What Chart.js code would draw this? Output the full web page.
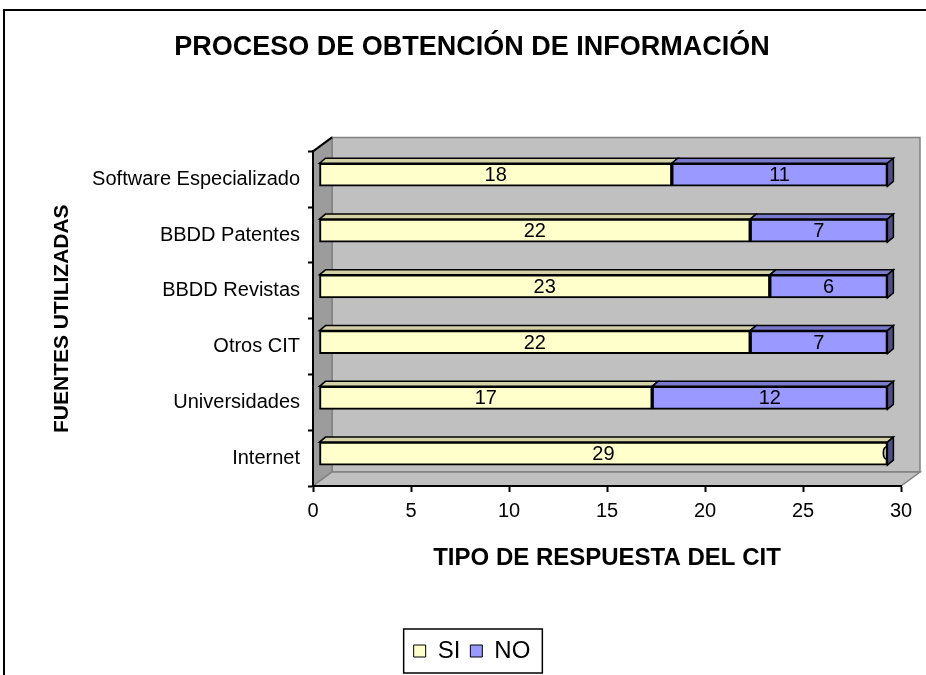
<!DOCTYPE html>
<html lang="es">
<head>
<meta charset="utf-8">
<title>Proceso de obtención de información</title>
<script src="https://cdn.jsdelivr.net/npm/chart.js@4/dist/chart.umd.min.js"></script>
<style>
  html, body { margin: 0; padding: 0; background: #fff; }
  #caja { width: 926px; height: 675px; }
</style>
</head>
<body>
<div id="caja"><canvas id="graficoFuentes" width="926" height="675"></canvas></div>
<script>
// Datos del gráfico (de arriba hacia abajo)
const fuentes = ['Software Especializado', 'BBDD Patentes', 'BBDD Revistas', 'Otros CIT', 'Universidades', 'Internet'];
const respuestasSi = [18, 22, 23, 22, 17, 29];
const respuestasNo = [11, 7, 6, 7, 12, 0];
const marcasX = [0, 5, 10, 15, 20, 25, 30];

const FUENTE = 'Arial, "Liberation Sans", sans-serif';

// Profundidad 3D de las paredes y de las barras
const fondo = { dx: 19, dy: 14 };
const barra = { dx: 6, dy: 5 };
const desplaza = { x: 6, y: -4.5 };

// Colores de las caras superiores / laterales
const caraSuperior = ['#D2D2A6', '#7A7ACC'];
const caraLateral = '#4F4F85';

function poligono(ctx, puntos, relleno, borde, grosor) {
    ctx.beginPath();
    ctx.moveTo(puntos[0][0], puntos[0][1]);
    for (let i = 1; i < puntos.length; i++) {
        ctx.lineTo(puntos[i][0], puntos[i][1]);
    }
    ctx.closePath();
    if (relleno) {
        ctx.fillStyle = relleno;
        ctx.fill();
    }
    if (borde) {
        ctx.strokeStyle = borde;
        ctx.lineWidth = grosor || 1;
        ctx.stroke();
    }
}

// Dibuja marco, paredes y suelo antes que los ejes
const paredes3D = {
    id: 'paredes3D',
    beforeDraw(chart) {
        const ctx = chart.ctx;
        const a = chart.chartArea;
        const L = a.left, R = a.right, T = a.top, B = a.bottom;
        const dx = fondo.dx, dy = fondo.dy;
        ctx.save();
        ctx.fillStyle = '#fff';
        ctx.fillRect(0, 0, chart.width, chart.height);

        // marco exterior
        ctx.strokeStyle = '#000';
        ctx.lineWidth = 2;
        ctx.strokeRect(4, 10, 1000, 1000);

        // pared del fondo
        poligono(ctx, [[L + dx, T - dy], [R + dx, T - dy], [R + dx, B - dy], [L + dx, B - dy]], '#C0C0C0', '#808080', 1.5);
        // pared izquierda
        poligono(ctx, [[L, T], [L + dx, T - dy], [L + dx, B - dy], [L, B]], '#9C9C9C', '#808080', 1.5);
        // suelo
        poligono(ctx, [[L, B], [R, B], [R + dx, B - dy], [L + dx, B - dy]], '#C0C0C0', '#808080', 1.5);

        // arista superior de la pared izquierda
        ctx.beginPath();
        ctx.moveTo(L, T);
        ctx.lineTo(L + dx, T - dy);
        ctx.strokeStyle = '#000';
        ctx.lineWidth = 2;
        ctx.stroke();
        ctx.restore();
    }
};

// Barras con volumen y etiquetas de valor
const barras3D = {
    id: 'barras3D',
    beforeDatasetsDraw(chart) {
        chart.ctx.save();
        chart.ctx.translate(desplaza.x, desplaza.y);
    },
    afterDatasetsDraw(chart) {
        const ctx = chart.ctx;
        const ultimo = chart.data.datasets.length - 1;

        chart.data.datasets.forEach((ds, i) => {
            chart.getDatasetMeta(i).data.forEach(el => {
                const x1 = Math.min(el.x, el.base);
                const x2 = Math.max(el.x, el.base);
                const y1 = el.y - el.height / 2;
                if (x2 > x1) {
                    poligono(ctx, [[x1, y1], [x2, y1], [x2 + barra.dx, y1 - barra.dy], [x1 + barra.dx, y1 - barra.dy]],
                        caraSuperior[i], '#000', 1.5);
                }
            });
        });

        ctx.font = '20px ' + FUENTE;
        ctx.fillStyle = '#000';
        ctx.textAlign = 'center';
        ctx.textBaseline = 'middle';
        chart.data.datasets.forEach((ds, i) => {
            chart.getDatasetMeta(i).data.forEach((el, j) => {
                ctx.fillText(String(ds.data[j]), (el.x + el.base) / 2, el.y + 1);
            });
        });

        chart.getDatasetMeta(ultimo).data.forEach(el => {
            const x2 = Math.max(el.x, el.base);
            const y1 = el.y - el.height / 2;
            const y2 = el.y + el.height / 2;
            poligono(ctx, [[x2, y1], [x2 + barra.dx, y1 - barra.dy], [x2 + barra.dx, y2 - barra.dy], [x2, y2]],
                caraLateral, '#000', 1.5);
        });

        ctx.restore();
    }
};

// Recuadro alrededor de la leyenda
const marcoLeyenda = {
    id: 'marcoLeyenda',
    afterDraw(chart) {
        const cajas = chart.legend && chart.legend.legendHitBoxes;
        if (!cajas || !cajas.length) return;
        const ctx = chart.ctx;
        const primera = cajas[0];
        const ultima = cajas[cajas.length - 1];
        const izq = primera.left - 10;
        const der = ultima.left + ultima.width + 12;
        const arriba = primera.top - 10;
        const abajo = primera.top + primera.height + 10;
        ctx.save();
        ctx.strokeStyle = '#000';
        ctx.lineWidth = 1.5;
        ctx.strokeRect(izq, arriba, der - izq, abajo - arriba);
        ctx.restore();
    }
};

const ctx = document.getElementById('graficoFuentes').getContext('2d');

const grafico = new Chart(ctx, {
    type: 'bar',
    data: {
        labels: fuentes,
        datasets: [{
            label: 'SI',
            data: respuestasSi,
            backgroundColor: '#FFFFCC',
            borderColor: '#000',
            borderWidth: 2,
            borderSkipped: false,
            clip: false
        }, {
            label: 'NO',
            data: respuestasNo,
            backgroundColor: '#9999FF',
            borderColor: '#000',
            borderWidth: 2,
            borderSkipped: false,
            clip: false
        }]
    },
    options: {
        indexAxis: 'y',
        responsive: false,
        animation: false,
        events: [],
        layout: {
            padding: { left: 43, right: 25, top: 0, bottom: 2 }
        },
        datasets: {
            bar: { barThickness: 23 }
        },
        scales: {
            x: {
                stacked: true,
                min: marcasX[0],
                max: marcasX[marcasX.length - 1],
                ticks: {
                    stepSize: marcasX[1] - marcasX[0],
                    color: '#000',
                    padding: 7,
                    font: { family: FUENTE, size: 20 }
                },
                grid: {
                    drawOnChartArea: false,
                    drawTicks: true,
                    tickLength: 6,
                    tickWidth: 2,
                    color: '#000'
                },
                border: { display: true, color: '#000', width: 2 },
                title: {
                    display: true,
                    text: 'TIPO DE RESPUESTA DEL CIT',
                    color: '#000',
                    padding: { top: 0, bottom: 56 },
                    font: { family: FUENTE, size: 24, weight: 'bold' }
                },
                afterFit(escala) {
                    escala.height = 143;
                }
            },
            y: {
                stacked: true,
                ticks: {
                    color: '#000',
                    padding: 8,
                    font: { family: FUENTE, size: 20 }
                },
                grid: {
                    drawOnChartArea: false,
                    drawTicks: true,
                    tickLength: 5,
                    tickWidth: 2,
                    color: '#000'
                },
                border: { display: true, color: '#000', width: 2 },
                title: {
                    display: true,
                    text: 'FUENTES UTILIZADAS',
                    color: '#000',
                    padding: { top: 7, bottom: 0 },
                    font: { family: FUENTE, size: 21, weight: 'bold' }
                },
                afterFit(escala) {
                    escala.width = 270;
                }
            }
        },
        plugins: {
            title: {
                display: true,
                text: 'PROCESO DE OBTENCIÓN DE INFORMACIÓN',
                color: '#000',
                padding: { top: 31, bottom: 88 },
                font: { family: FUENTE, size: 27, weight: 'bold' }
            },
            legend: {
                display: true,
                position: 'bottom',
                labels: {
                    color: '#000',
                    boxWidth: 12,
                    boxHeight: 12,
                    padding: 10,
                    font: { family: FUENTE, size: 24 },
                    generateLabels(chart) {
                        return Chart.defaults.plugins.legend.labels.generateLabels(chart).map(item => {
                            item.lineWidth = 1;
                            return item;
                        });
                    }
                }
            },
            tooltip: { enabled: false }
        }
    },
    plugins: [paredes3D, barras3D, marcoLeyenda]
});
</script>
</body>
</html>
